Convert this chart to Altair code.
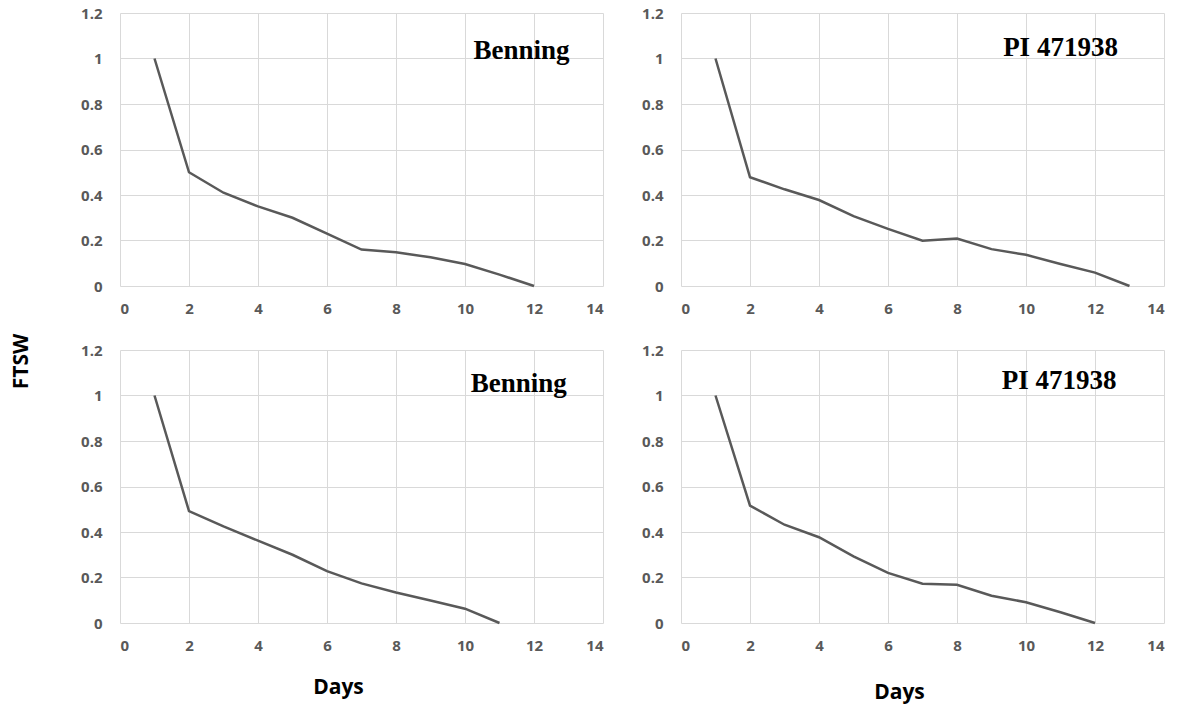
import altair as alt
import pandas as pd

# ---- data ----
days_tl = [1, 2, 3, 4, 5, 6, 7, 8, 9, 10, 11, 12]
ftsw_tl = [1.0, 0.50, 0.41, 0.35, 0.30, 0.23, 0.16, 0.148, 0.126, 0.097, 0.05, 0.0]

days_tr = [1, 2, 3, 4, 5, 6, 7, 8, 9, 10, 11, 12, 13]
ftsw_tr = [1.0, 0.478, 0.425, 0.378, 0.307, 0.251, 0.199, 0.209, 0.162, 0.137, 0.097, 0.059, 0.0]

days_bl = [1, 2, 3, 4, 5, 6, 7, 8, 9, 10, 11]
ftsw_bl = [1.0, 0.492, 0.425, 0.362, 0.30, 0.228, 0.174, 0.134, 0.099, 0.063, 0.0]

days_br = [1, 2, 3, 4, 5, 6, 7, 8, 9, 10, 11, 12]
ftsw_br = [1.0, 0.516, 0.432, 0.377, 0.293, 0.22, 0.173, 0.168, 0.12, 0.091, 0.047, 0.0]

panel_labels = ["Benning", "PI 471938", "Benning", "PI 471938"]
label_day = [11.64, 11.0, 11.56, 10.96]
label_ftsw = [1.0, 1.01, 1.015, 1.03]

x_ticks = [0, 2, 4, 6, 8, 10, 12, 14]
y_ticks = [0, 0.2, 0.4, 0.6, 0.8, 1.0, 1.2]

SANS = "Open Sans"
GRAY = "#595959"
W, H = 483, 273


def panel(days, vals, label, lx, ly, xtitle=False, xtitle_y=63, ytitle=False):
    df = pd.DataFrame({"Days": days, "FTSW": vals})
    lab = pd.DataFrame({"Days": [lx], "FTSW": [ly], "label": [label]})

    xaxis_kw = dict(values=x_ticks, grid=True)
    if xtitle:
        xaxis_kw.update(title="Days", titleX=218, titleY=xtitle_y,
                        titleBaseline="middle", titleAlign="center")
    else:
        xaxis_kw.update(title=None)

    yaxis_kw = dict(values=y_ticks, grid=True, format="~g")
    if ytitle:
        yaxis_kw.update(title="FTSW", titleX=-99, titleY=11, titleAngle=270,
                        titleBaseline="middle", titleAlign="center")
    else:
        yaxis_kw.update(title=None)

    x = alt.X("Days:Q", scale=alt.Scale(domain=[0, 14], nice=False),
              axis=alt.Axis(**xaxis_kw))
    y = alt.Y("FTSW:Q", scale=alt.Scale(domain=[0, 1.2], nice=False),
              axis=alt.Axis(**yaxis_kw))

    line = alt.Chart(df).mark_line(color=GRAY, strokeWidth=2.5).encode(x=x, y=y)
    text = alt.Chart(lab).mark_text(
        font="Liberation Serif", fontWeight="bold", fontSize=27,
        color="black", align="center", baseline="alphabetic"
    ).encode(x="Days:Q", y="FTSW:Q", text="label:N")
    return alt.layer(line, text).properties(width=W, height=H)


tl = panel(days_tl, ftsw_tl, panel_labels[0], label_day[0], label_ftsw[0])
tr = panel(days_tr, ftsw_tr, panel_labels[1], label_day[1], label_ftsw[1])
bl = panel(days_bl, ftsw_bl, panel_labels[2], label_day[2], label_ftsw[2],
           xtitle=True, xtitle_y=64, ytitle=True)
br = panel(days_br, ftsw_br, panel_labels[3], label_day[3], label_ftsw[3],
           xtitle=True, xtitle_y=69)

chart = alt.concat(
    tl, tr, bl, br, columns=2,
    spacing={"row": 64, "column": 78}, bounds="flush",
).properties(
    padding={"left": 10, "top": 6, "right": 5, "bottom": 5}
).configure_view(stroke=None).configure_axis(
    domain=False, ticks=False, tickSize=0,
    gridColor="#d9d9d9", gridWidth=1,
    labelFont=SANS, labelFontSize=15, labelFontWeight="bold", labelColor=GRAY,
    titleFont=SANS, titleFontSize=21, titleFontWeight="bold", titleColor="black",
).configure_axisX(labelPadding=15).configure_axisY(labelPadding=18)

chart.save("out.html", embed_options={"renderer": "svg", "actions": False})
